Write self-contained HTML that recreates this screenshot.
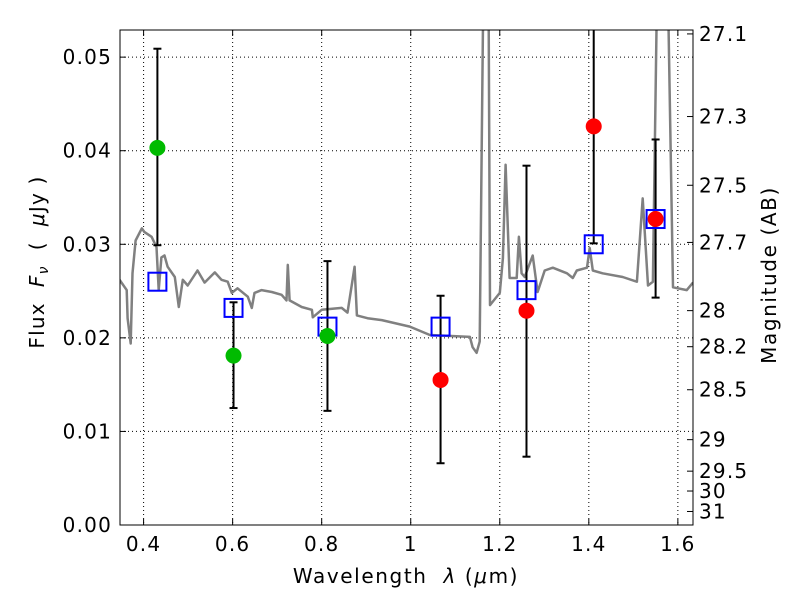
<!DOCTYPE html>
<html><head><meta charset="utf-8"><style>
body{margin:0;background:#fff;}
svg text{font-family:"DejaVu Sans","Liberation Sans",sans-serif;fill:#000;letter-spacing:1.2px;white-space:pre;}
</style></head><body>
<svg id="chart" width="800" height="600" xmlns="http://www.w3.org/2000/svg">
<defs><clipPath id="clip"><rect x="120" y="30" width="573" height="495"/></clipPath></defs>
<g id="grid"></g>
<g id="spec" clip-path="url(#clip)"></g>
<g id="marks" clip-path="url(#clip)"></g>
<rect x="120" y="30" width="573" height="495" fill="none" stroke="#000" stroke-width="1"/>
<g id="axes"></g>
<text x="406" y="583" font-size="20" text-anchor="middle" style="letter-spacing:1.6px">Wavelength  <tspan font-style="italic">λ</tspan> (<tspan font-style="italic">μ</tspan>m)</text>
<text transform="translate(44,262) rotate(-90)" font-size="20" text-anchor="middle">Flux  <tspan font-style="italic">F</tspan><tspan font-style="italic" font-size="14" dy="4">ν</tspan><tspan dy="-4">  (  </tspan><tspan font-style="italic">μ</tspan>Jy )</text>
<text transform="translate(776,275) rotate(-90)" font-size="20" text-anchor="middle" style="letter-spacing:1.6px">Magnitude (AB)</text>
</svg>
<script>
const specLam=[.346,.362,.364,.371,.375,.382,.396,.402,.418,.429,.434,.440,.447,.454,.470,.479,.488,.499,.521,.537,.560,.575,.589,.598,.611,.634,.643,.649,.665,.688,.710,.721,.724,.728,.755,.778,.780,.800,.845,.858,.874,.879,.903,.935,.998,1.043,1.133,1.139,1.148,1.155,1.162,1.166,1.175,1.178,1.200,1.207,1.213,1.222,1.238,1.243,1.249,1.256,1.274,1.285,1.301,1.319,1.351,1.364,1.373,1.396,1.402,1.409,1.431,1.476,1.508,1.521,1.533,1.544,1.553,1.578,1.589,1.620,1.634];
const specFlux=[.0262,.0251,.0221,.0194,.0269,.0304,.0317,.0313,.0308,.0297,.0251,.0286,.0288,.0276,.0265,.0233,.0262,.0256,.0272,.0259,.0270,.0262,.0260,.0248,.0253,.0244,.0232,.0248,.0251,.0249,.0246,.0240,.0278,.0240,.0233,.0230,.0222,.0230,.0232,.0227,.0276,.0224,.0221,.0219,.0212,.0203,.0201,.0190,.0184,.0196,.0527,.056,.056,.0235,.0248,.0285,.0385,.0264,.0264,.0308,.0269,.0265,.0288,.0249,.0272,.0275,.0269,.0264,.0272,.0275,.0296,.0272,.0269,.0265,.0260,.0349,.0256,.0260,.056,.056,.0254,.0251,.0259];
const obsLam=[0.431,0.602,0.813,1.067,1.260,1.411,1.550];
const obsFlux=[0.0403,0.0181,0.0202,0.0155,0.0229,0.0426,0.0327];
const obsHi=[0.0509,0.0238,0.0282,0.0245,0.0384,0.060,0.0412];
const obsLo=[0.0299,0.0125,0.0122,0.0066,0.0073,0.0301,0.0243];
const obsColor=['#00bb00','#00bb00','#00bb00','red','red','red','red'];
const modelLam=[0.431,0.602,0.813,1.067,1.260,1.411,1.550];
const modelFlux=[0.0260,0.0232,0.0212,0.0212,0.0251,0.0300,0.0327];
const xTicks=[0.4,0.6,0.8,1.0,1.2,1.4,1.6];
const xTickLabels=['0.4','0.6','0.8','1','1.2','1.4','1.6'];
const yTicks=[0,0.01,0.02,0.03,0.04,0.05];
const yTickLabels=['0.00','0.01','0.02','0.03','0.04','0.05'];
const magTicks=[27.1,27.3,27.5,27.7,28,28.2,28.5,29,29.5,30,31];
const magTickLabels=['27.1','27.3','27.5','27.7','28','28.2','28.5','29','29.5','30','31'];

const X0=120,X1=693,Y0=525,Y1=30,XMIN=0.347,XMAX=1.634,YMIN=0,YMAX=0.0529;
const sx=v=>X0+(v-XMIN)/(XMAX-XMIN)*(X1-X0);
const sy=v=>Y0-(v-YMIN)/(YMAX-YMIN)*(Y0-Y1);
const NS='http://www.w3.org/2000/svg';
function mk(tag,attrs,parent){const e=document.createElementNS(NS,tag);for(const k in attrs)e.setAttribute(k,attrs[k]);parent.appendChild(e);return e;}
const grid=document.getElementById('grid'),axes=document.getElementById('axes'),spec=document.getElementById('spec'),marks=document.getElementById('marks');

xTicks.forEach((t,i)=>{const x=sx(t);
 let g=mk('line',{x1:x,x2:x,y1:Y1,y2:Y0,stroke:'#000','stroke-dasharray':'1,3','stroke-width':1},grid);
 
 let a=mk('line',{x1:x,x2:x,y1:Y0,y2:Y0-6,stroke:'#000'},axes);
 let b=mk('line',{x1:x,x2:x,y1:Y1,y2:Y1+6,stroke:'#000'},axes);
 let l=mk('text',{x:x,y:Y0+26,'font-size':20,'text-anchor':'middle'},axes);l.textContent=xTickLabels[i];
 });
yTicks.forEach((t,i)=>{const y=sy(t);
 let g=mk('line',{x1:X0,x2:X1,y1:y,y2:y,stroke:'#000','stroke-dasharray':'1,3','stroke-width':1},grid);
 
 let a=mk('line',{x1:X0,x2:X0+6,y1:y,y2:y,stroke:'#000'},axes);
 let l=mk('text',{x:X0-8,y:y+7,'font-size':20,'text-anchor':'end'},axes);l.textContent=yTickLabels[i];
 });
magTicks.forEach((m,i)=>{const y=sy(Math.pow(10,(23.9-m)/2.5));
 let a=mk('line',{x1:X1,x2:X1-6,y1:y,y2:y,stroke:'#000'},axes);
 let l=mk('text',{x:X1+6,y:y+7,'font-size':20},axes);l.textContent=magTickLabels[i];
 });

let d=specLam.map((v,i)=>(i?'L':'M')+sx(v).toFixed(1)+','+sy(specFlux[i]).toFixed(1)).join('');
const p=mk('path',{d:d,fill:'none',stroke:'#808080','stroke-width':2.5,'stroke-linejoin':'round'},spec);


obsLam.forEach((v,i)=>{const x=sx(v);
 const e=mk('line',{x1:x,x2:x,y1:sy(obsHi[i]),y2:sy(obsLo[i]),stroke:'#000','stroke-width':2},marks);
 
 [obsHi[i],obsLo[i]].forEach(c=>{const cap=mk('line',{x1:x-4,x2:x+4,y1:sy(c),y2:sy(c),stroke:'#000','stroke-width':2},marks);
  });});
modelLam.forEach((v,i)=>{const r=mk('rect',{x:sx(v)-9,y:sy(modelFlux[i])-9,width:18,height:18,fill:'none',stroke:'#0000ff','stroke-width':2},marks);
 });
obsLam.forEach((v,i)=>{const c=mk('circle',{cx:sx(v),cy:sy(obsFlux[i]),r:8,fill:obsColor[i]},marks);
 });
</script>
</body></html>
